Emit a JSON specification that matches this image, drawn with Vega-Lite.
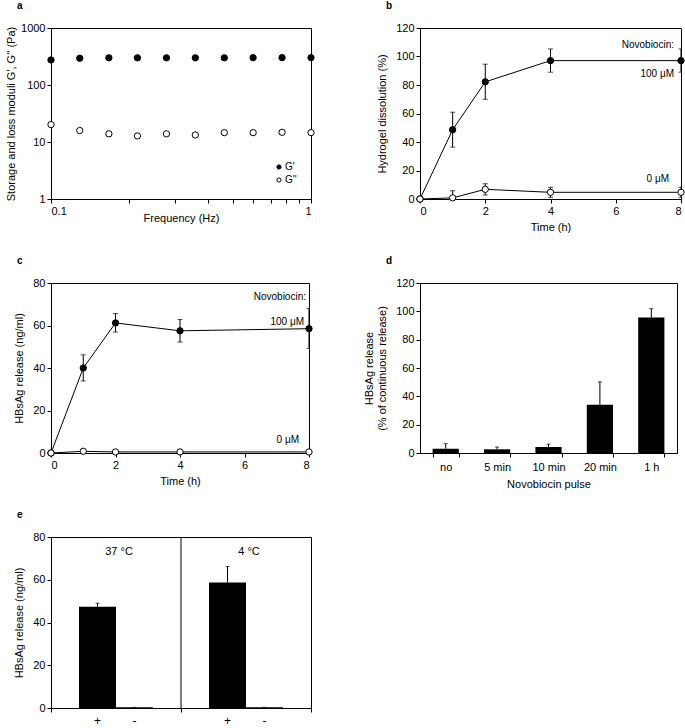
{
  "$schema": "https://vega.github.io/schema/vega-lite/v6.json",
  "background": "white",
  "padding": {"left": 5, "top": 0, "right": 2, "bottom": 2},
  "columns": 2,
  "bounds": "flush",
  "spacing": {"row": 84, "column": 109},
  "resolve": {"scale": {"fill": "independent", "x": "independent", "y": "independent"}, "legend": {"fill": "independent"}},
  "config": {
    "font": "Liberation Sans",
    "view": {"stroke": "black", "strokeWidth": 1},
    "axis": {
      "grid": false, "domainColor": "black", "tickColor": "black", "labelColor": "black", "titleColor": "black",
      "labelFontSize": 11, "titleFontSize": 11, "titleFontWeight": "normal", "tickSize": 4, "labelPadding": 2,
      "titlePadding": 8, "labelFont": "Liberation Sans", "titleFont": "Liberation Sans"
    },
    "title": {"fontSize": 10, "fontWeight": "bold", "anchor": "start", "frame": "group", "dx": -34, "offset": 11, "color": "black"},
    "text": {"font": "Liberation Sans", "fontSize": 10, "color": "black"}
  },
  "concat": [
    {
      "width": 260, "height": 171,
      "title": {"text": "a"},
      "data": {"values": [
        {"freq": 0.1, "type": "G'", "mod": 275}, {"freq": 0.129, "type": "G'", "mod": 295}, {"freq": 0.167, "type": "G'", "mod": 300},
        {"freq": 0.215, "type": "G'", "mod": 300}, {"freq": 0.278, "type": "G'", "mod": 300}, {"freq": 0.359, "type": "G'", "mod": 300},
        {"freq": 0.464, "type": "G'", "mod": 300}, {"freq": 0.599, "type": "G'", "mod": 302}, {"freq": 0.774, "type": "G'", "mod": 302},
        {"freq": 1.0, "type": "G'", "mod": 302},
        {"freq": 0.1, "type": "G''", "mod": 20.2}, {"freq": 0.129, "type": "G''", "mod": 15.9}, {"freq": 0.167, "type": "G''", "mod": 13.9},
        {"freq": 0.215, "type": "G''", "mod": 12.8}, {"freq": 0.278, "type": "G''", "mod": 13.9}, {"freq": 0.359, "type": "G''", "mod": 13.3},
        {"freq": 0.464, "type": "G''", "mod": 14.6}, {"freq": 0.599, "type": "G''", "mod": 14.6}, {"freq": 0.774, "type": "G''", "mod": 14.8},
        {"freq": 1.0, "type": "G''", "mod": 14.6}
      ]},
      "mark": {"type": "point", "shape": "circle", "size": 40, "stroke": "black", "strokeWidth": 1, "opacity": 1, "fillOpacity": 1},
      "encoding": {
        "x": {"field": "freq", "type": "quantitative", "title": "Frequency (Hz)",
              "scale": {"type": "log", "domain": [0.1, 1], "nice": false},
              "axis": {"values": [0.1, 0.2, 0.3, 0.4, 0.5, 0.6, 0.7, 0.8, 0.9, 1], "format": "~g", "titlePadding": -4,
                       "labelExpr": "datum.value == 0.1 || datum.value == 1 ? datum.label : ''"}},
        "y": {"field": "mod", "type": "quantitative", "title": "Storage and loss moduli G', G'' (Pa)",
              "scale": {"type": "log", "domain": [1, 1000], "nice": false},
              "axis": {"values": [1, 10, 100, 1000], "format": "~g", "titlePadding": 4}},
        "fill": {"field": "type", "type": "nominal", "scale": {"domain": ["G'", "G''"], "range": ["black", "white"]},
                 "legend": {"title": null, "orient": "bottom-right", "offset": 14, "symbolType": "circle", "symbolSize": 18,
                            "symbolStrokeColor": "black", "symbolStrokeWidth": 1, "labelFontSize": 10, "labelOffset": 1, "rowPadding": 3}}
      }
    },
    {
      "width": 261, "height": 171,
      "title": {"text": "b"},
      "data": {"values": [
        {"t": 0, "conc": "100 μM", "v": 0, "lo": 0, "hi": 0},
        {"t": 1, "conc": "100 μM", "v": 48.6, "lo": 36.4, "hi": 60.9},
        {"t": 2, "conc": "100 μM", "v": 82.2, "lo": 70, "hi": 94.6},
        {"t": 4, "conc": "100 μM", "v": 97.1, "lo": 89, "hi": 105.3},
        {"t": 8, "conc": "100 μM", "v": 97.1, "lo": 89, "hi": 105.3},
        {"t": 0, "conc": "0 μM", "v": 0, "lo": 0, "hi": 0},
        {"t": 1, "conc": "0 μM", "v": 0.8, "lo": -4.2, "hi": 5.8},
        {"t": 2, "conc": "0 μM", "v": 6.8, "lo": 2.8, "hi": 10.7},
        {"t": 4, "conc": "0 μM", "v": 4.7, "lo": 1.2, "hi": 8.2},
        {"t": 8, "conc": "0 μM", "v": 4.7, "lo": 1.2, "hi": 8.2}
      ]},
      "encoding": {
        "x": {"field": "t", "type": "quantitative", "title": "Time (h)", "scale": {"domain": [0, 8], "nice": false},
              "axis": {"values": [0, 2, 4, 6, 8], "titlePadding": 5}},
        "y": {"field": "v", "type": "quantitative", "title": "Hydrogel dissolution (%)", "scale": {"domain": [0, 120], "nice": false},
              "axis": {"values": [0, 20, 40, 60, 80, 100, 120]}}
      },
      "layer": [
        {"mark": {"type": "line", "color": "black", "strokeWidth": 1}, "encoding": {"detail": {"field": "conc"}}},
        {"mark": {"type": "rule", "color": "black", "strokeWidth": 1, "clip": true}, "encoding": {"y": {"field": "lo", "type": "quantitative"}, "y2": {"field": "hi"}}},
        {"mark": {"type": "tick", "orient": "horizontal", "color": "black", "size": 5, "thickness": 1, "clip": true}, "encoding": {"y": {"field": "lo", "type": "quantitative"}}},
        {"mark": {"type": "tick", "orient": "horizontal", "color": "black", "size": 5, "thickness": 1, "clip": true}, "encoding": {"y": {"field": "hi", "type": "quantitative"}}},
        {"mark": {"type": "point", "shape": "circle", "size": 40, "stroke": "black", "strokeWidth": 1, "opacity": 1, "fillOpacity": 1},
         "encoding": {"fill": {"condition": {"test": "datum.conc == '100 μM'", "value": "black"}, "value": "white"}}},
        {"transform": [{"filter": "datum.t == 8 && datum.conc == '100 μM'"}],
         "mark": {"type": "text", "text": "Novobiocin:", "align": "right", "baseline": "middle", "dx": -7},
         "encoding": {"x": {"datum": 8}, "y": {"datum": 108}}},
        {"transform": [{"filter": "datum.t == 8 && datum.conc == '100 μM'"}],
         "mark": {"type": "text", "text": "100 μM", "align": "right", "baseline": "middle", "dx": -7},
         "encoding": {"x": {"datum": 8}, "y": {"datum": 88}}},
        {"transform": [{"filter": "datum.t == 8 && datum.conc == '0 μM'"}],
         "mark": {"type": "text", "text": "0 μM", "align": "right", "baseline": "middle", "dx": -12},
         "encoding": {"x": {"datum": 8}, "y": {"datum": 14}}}
      ]
    },
    {
      "width": 258, "height": 170,
      "title": {"text": "c"},
      "data": {"values": [
        {"t": 0, "conc": "100 μM", "v": 0, "lo": 0, "hi": 0},
        {"t": 1, "conc": "100 μM", "v": 40, "lo": 33.9, "hi": 46.2},
        {"t": 2, "conc": "100 μM", "v": 61.2, "lo": 56.9, "hi": 65.6},
        {"t": 4, "conc": "100 μM", "v": 57.5, "lo": 52.2, "hi": 62.8},
        {"t": 8, "conc": "100 μM", "v": 58.5, "lo": 49.2, "hi": 68},
        {"t": 0, "conc": "0 μM", "v": 0, "lo": 0, "hi": 0},
        {"t": 1, "conc": "0 μM", "v": 0.8, "lo": 0.4, "hi": 1.2},
        {"t": 2, "conc": "0 μM", "v": 0.5, "lo": 0.2, "hi": 0.8},
        {"t": 4, "conc": "0 μM", "v": 0.5, "lo": 0.2, "hi": 0.8},
        {"t": 8, "conc": "0 μM", "v": 0.5, "lo": 0.2, "hi": 0.8}
      ]},
      "encoding": {
        "x": {"field": "t", "type": "quantitative", "title": "Time (h)", "scale": {"domain": [0, 8], "nice": false},
              "axis": {"values": [0, 2, 4, 6, 8], "titlePadding": 5}},
        "y": {"field": "v", "type": "quantitative", "title": "HBsAg release (ng/ml)", "scale": {"domain": [0, 80], "nice": false},
              "axis": {"values": [0, 20, 40, 60, 80]}}
      },
      "layer": [
        {"mark": {"type": "line", "color": "black", "strokeWidth": 1}, "encoding": {"detail": {"field": "conc"}}},
        {"mark": {"type": "rule", "color": "black", "strokeWidth": 1, "clip": true}, "encoding": {"y": {"field": "lo", "type": "quantitative"}, "y2": {"field": "hi"}}},
        {"mark": {"type": "tick", "orient": "horizontal", "color": "black", "size": 5, "thickness": 1, "clip": true}, "encoding": {"y": {"field": "lo", "type": "quantitative"}}},
        {"mark": {"type": "tick", "orient": "horizontal", "color": "black", "size": 5, "thickness": 1, "clip": true}, "encoding": {"y": {"field": "hi", "type": "quantitative"}}},
        {"mark": {"type": "point", "shape": "circle", "size": 40, "stroke": "black", "strokeWidth": 1, "opacity": 1, "fillOpacity": 1},
         "encoding": {"fill": {"condition": {"test": "datum.conc == '100 μM'", "value": "black"}, "value": "white"}}},
        {"transform": [{"filter": "datum.t == 8 && datum.conc == '100 μM'"}],
         "mark": {"type": "text", "text": "Novobiocin:", "align": "right", "baseline": "middle", "dx": -3},
         "encoding": {"x": {"datum": 8}, "y": {"datum": 73.4}}},
        {"transform": [{"filter": "datum.t == 8 && datum.conc == '100 μM'"}],
         "mark": {"type": "text", "text": "100 μM", "align": "right", "baseline": "middle", "dx": -5},
         "encoding": {"x": {"datum": 8}, "y": {"datum": 61.6}}},
        {"transform": [{"filter": "datum.t == 8 && datum.conc == '0 μM'"}],
         "mark": {"type": "text", "text": "0 μM", "align": "right", "baseline": "middle", "dx": -10},
         "encoding": {"x": {"datum": 8}, "y": {"datum": 6.1}}}
      ]
    },
    {
      "width": 257, "height": 170,
      "title": {"text": "d"},
      "data": {"values": [
        {"pulse": "no", "v": 3.0, "hi": 6.6},
        {"pulse": "5 min", "v": 2.6, "hi": 4.2},
        {"pulse": "10 min", "v": 4.2, "hi": 6.3},
        {"pulse": "20 min", "v": 34, "hi": 50.2},
        {"pulse": "1 h", "v": 95.6, "hi": 101.9}
      ]},
      "encoding": {
        "x": {"field": "pulse", "type": "nominal", "sort": null, "title": "Novobiocin pulse",
              "scale": {"paddingInner": 0.49, "paddingOuter": 0.245},
              "axis": {"labelAngle": 0, "tickBand": "extent", "labelPadding": 4, "titlePadding": 6}},
        "y": {"field": "v", "type": "quantitative", "title": ["HBsAg release", "(% of continuous release)"],
              "scale": {"domain": [0, 120], "nice": false}, "axis": {"values": [0, 20, 40, 60, 80, 100, 120]}}
      },
      "layer": [
        {"mark": {"type": "rule", "color": "black", "strokeWidth": 1}, "encoding": {"y2": {"field": "hi"}}},
        {"mark": {"type": "tick", "orient": "horizontal", "color": "black", "size": 4, "thickness": 1}, "encoding": {"y": {"field": "hi", "type": "quantitative"}}},
        {"mark": {"type": "bar", "color": "black"}}
      ]
    },
    {
      "width": 260, "height": 171,
      "title": {"text": "e"},
      "data": {"values": [
        {"temp": "37 °C", "trt": "+", "v": 47.4, "hi": 49.0},
        {"temp": "37 °C", "trt": "-", "v": 0.3, "hi": 0.3},
        {"temp": "4 °C", "trt": "+", "v": 58.7, "hi": 66.2},
        {"temp": "4 °C", "trt": "-", "v": 0.3, "hi": 0.3}
      ]},
      "encoding": {
        "x": {"field": "temp", "type": "nominal", "title": null,
              "scale": {"domain": ["37 °C", "4 °C"], "paddingInner": 0, "paddingOuter": 0},
              "axis": {"labels": false, "tickBand": "extent"}},
        "y": {"field": "v", "type": "quantitative", "title": "HBsAg release (ng/ml)",
              "scale": {"domain": [0, 80], "nice": false}, "axis": {"values": [0, 20, 40, 60, 80]}}
      },
      "layer": [
        {"transform": [{"filter": "datum.temp == '4 °C' && datum.trt == '+'"}],
         "mark": {"type": "rule", "color": "black", "strokeWidth": 1},
         "encoding": {"x": {"datum": "4 °C", "type": "nominal", "bandPosition": 0}, "y": {"datum": 0}, "y2": {"datum": 80}}},
        {"mark": {"type": "rule", "color": "black", "strokeWidth": 1},
         "encoding": {"xOffset": {"field": "trt", "type": "nominal", "scale": {"domain": ["+", "-"], "paddingInner": 0, "paddingOuter": 0.757}}, "y2": {"field": "hi"}}},
        {"mark": {"type": "tick", "orient": "horizontal", "color": "black", "size": 4, "thickness": 1},
         "encoding": {"xOffset": {"field": "trt", "type": "nominal"}, "y": {"field": "hi", "type": "quantitative"}}},
        {"mark": {"type": "bar", "color": "black"},
         "encoding": {"xOffset": {"field": "trt", "type": "nominal"}}},
        {"mark": {"type": "text", "fontSize": 12, "baseline": "middle", "dy": 13},
         "encoding": {"xOffset": {"field": "trt", "type": "nominal"}, "y": {"datum": 0}, "text": {"field": "trt"}}},
        {"transform": [{"filter": "datum.trt == '+'"}],
         "mark": {"type": "text", "fontSize": 11, "baseline": "middle", "dx": 3},
         "encoding": {"y": {"datum": 73}, "text": {"field": "temp"}}}
      ]
    }
  ]
}
